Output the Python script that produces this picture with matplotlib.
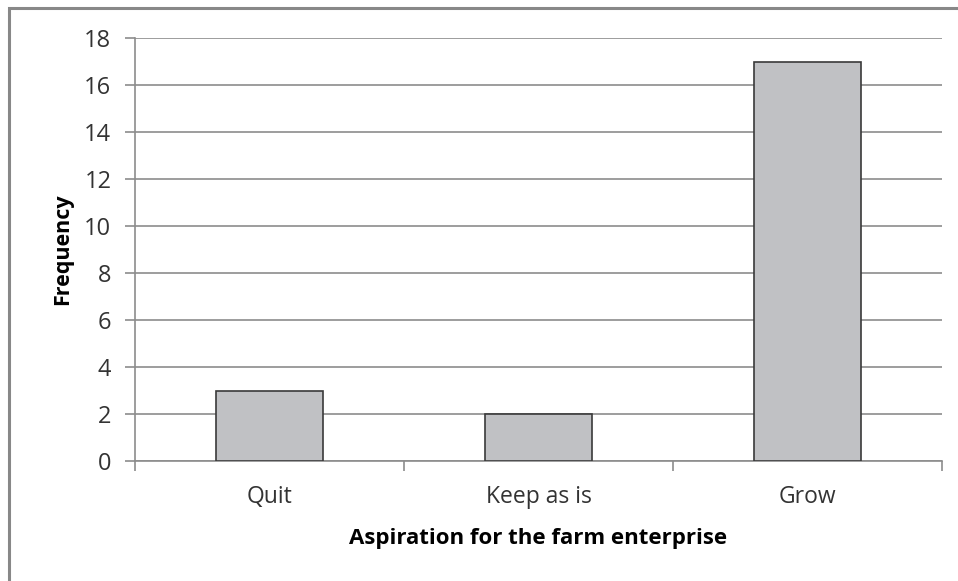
import matplotlib
matplotlib.use("Agg")
import matplotlib.pyplot as plt
from matplotlib.patches import Rectangle

categories = ["Quit", "Keep as is", "Grow"]
values = [3, 2, 17]
yticks = [0, 2, 4, 6, 8, 10, 12, 14, 16, 18]

plt.rcParams['font.family'] = ['Open Sans', 'DejaVu Sans']

fig = plt.figure(figsize=(9.58, 5.81), dpi=100)
ax = fig.add_axes([135/958, 1-461/581, (942-135)/958, (461-38)/581])

grid_c = '#8c8c8c'
x = list(range(len(categories)))
ax.bar(x, values, width=0.4, color='#c0c1c4', edgecolor='#3a3a3a', linewidth=1.2, zorder=3)

ax.set_xlim(-0.5, len(categories) - 0.5)
ax.set_ylim(0, 18)
ax.set_yticks(yticks)
ax.set_yticklabels([str(v) for v in yticks])
ax.yaxis.grid(True, color=grid_c, linewidth=1.2, zorder=0)
ax.set_axisbelow(True)

ax.set_xticks([i - 0.5 for i in range(len(categories) + 1)])
ax.set_xticklabels([])
ax.set_xticks(x, minor=True)
ax.set_xticklabels(categories, minor=True)
ax.tick_params(axis='x', which='minor', length=0, pad=17, labelsize=16.5, labelcolor='#333333')
ax.tick_params(axis='x', which='major', length=7, width=1.2, color=grid_c, direction='out')
ax.tick_params(axis='y', length=7, width=1.2, color=grid_c, direction='out', pad=10,
               labelsize=17, labelcolor='#333333')

for s in ['top', 'right']:
    ax.spines[s].set_visible(False)
for s in ['left', 'bottom']:
    ax.spines[s].set_color(grid_c)
    ax.spines[s].set_linewidth(1.2)

ax.set_xlabel("Aspiration for the farm enterprise", fontsize=16, fontweight='bold', labelpad=14)
ax.set_ylabel("Frequency", fontsize=15.5, fontweight='bold', labelpad=8)

fig.patches.append(Rectangle((9/958, -0.1), 1.2, (581-8)/581 + 0.1, transform=fig.transFigure,
                             fill=False, edgecolor='#888888', linewidth=2.2))

fig.savefig("out.png", dpi=100)
